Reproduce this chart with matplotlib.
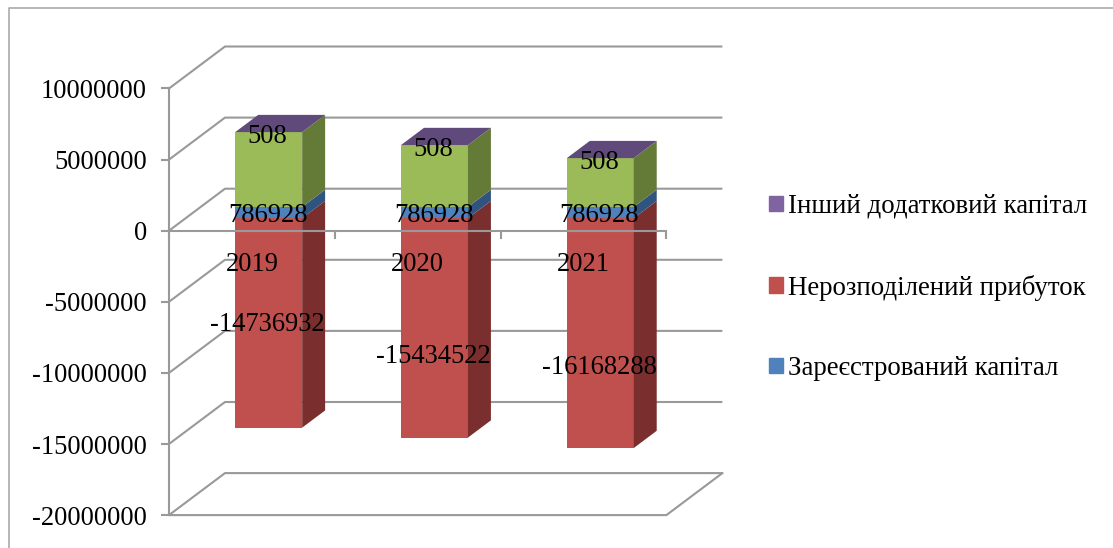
import matplotlib
matplotlib.use('Agg')
import matplotlib.pyplot as plt
from matplotlib.lines import Line2D
from matplotlib.patches import Patch, Polygon

years = ['2019', '2020', '2021']
registered = [786928, 786928, 786928]
retained = [-14736932, -15434522, -16168288]
reserve = [5260000, 4350000, 3430000]
other = [508, 508, 508]

y_ticks = [10000000, 5000000, 0, -5000000, -10000000, -15000000, -20000000]
legend_names = ['Інший додатковий капітал', 'Нерозподілений прибуток', 'Зареєстрований капітал']

W, H = 1113, 548
X0, Y0 = 169.0, 230.7      # where the zero line starts
PX_CAT = 165.8             # pixels per category
PX_VAL = 14.22 / 1e6       # pixels per unit of value
DEPTH_X, DEPTH_Y = 56, 42  # size of the 3d floor in pixels
BAR_W = 67 / 166
NEAR, FAR = 0.3, 0.71      # bar depth, 0 = front plane, 1 = back wall

GRID = '#999999'
FRONT = {'blue': '#4f81bd', 'red': '#c0504d', 'green': '#9bbb59', 'purple': '#8064a2'}
SIDE = {'blue': '#2f5480', 'red': '#7a2f2e', 'green': '#647a37', 'purple': '#5c4776'}
TOP = '#604a7b'

plt.rcParams['font.family'] = 'Liberation Serif'
FS = 19.1

fig = plt.figure(figsize=(W / 100, H / 100), dpi=100)
ax = fig.add_axes([0, 0, 1, 1])
ax.set_xlim(-X0 / PX_CAT, (W - X0) / PX_CAT)
ax.set_ylim(-(H - Y0) / PX_VAL, Y0 / PX_VAL)
ax.patch.set_visible(False)


def shift(x, v, d):
    # moves a point from the front plane d of the way to the back wall
    return x + d * DEPTH_X / PX_CAT, v + d * DEPTH_Y / PX_VAL


# outer chart frame
fig.add_artist(Line2D([8.7 / W, 8.7 / W, 1], [0, 1 - 7.7 / H, 1 - 7.7 / H],
                      color='#a3a3a3', lw=1.1))

# gridlines running over the floor and along the back wall
for t in y_ticks:
    xs = [0, shift(0, t, 1)[0], shift(3, t, 1)[0]]
    vs = [t, shift(0, t, 1)[1], shift(3, t, 1)[1]]
    ax.plot(xs, vs, color=GRID, lw=1.5, zorder=0.5, solid_capstyle='butt')

# right edge and front edge of the floor
fl = y_ticks[-1]
ax.plot([0, 3, shift(3, fl, 1)[0]], [fl, fl, shift(3, fl, 1)[1]],
        color=GRID, lw=1.5, zorder=0.5)


def draw_segment(i, low, high, color):
    left = i + 0.5 - BAR_W / 2 + NEAR * DEPTH_X / PX_CAT
    front_low = low + NEAR * DEPTH_Y / PX_VAL
    ax.bar(left, high - low, BAR_W, bottom=front_low, align='edge',
           color=FRONT[color], linewidth=0, zorder=1)
    right = i + 0.5 + BAR_W / 2
    side = [shift(right, low, NEAR), shift(right, low, FAR),
            shift(right, high, FAR), shift(right, high, NEAR)]
    ax.add_patch(Polygon(side, closed=True, facecolor=SIDE[color], linewidth=0, zorder=1))


def draw_cap(i, level):
    a = i + 0.5 - BAR_W / 2
    b = i + 0.5 + BAR_W / 2
    top = [shift(a, level, NEAR), shift(b, level, NEAR),
           shift(b, level, FAR), shift(a, level, FAR)]
    ax.add_patch(Polygon(top, closed=True, facecolor=TOP, linewidth=0, zorder=1))


# pixel nudges for the red labels, they were moved by hand in the chart
red_nudge = [2, 29, 34]

for i in range(len(years)):
    blue_top = registered[i]
    green_top = blue_top + reserve[i]
    purple_top = green_top + other[i]
    draw_segment(i, retained[i], 0, 'red')
    draw_segment(i, 0, blue_top, 'blue')
    draw_segment(i, blue_top, green_top, 'green')
    draw_segment(i, green_top, purple_top, 'purple')
    draw_cap(i, purple_top)

    cx, base = shift(i + 0.5, 0, NEAR)
    lab = dict(ha='center', va='center', fontsize=FS, color='black', zorder=4)
    ax.annotate(str(other[i]), (cx, base + purple_top), xytext=(-1, -4),
                textcoords='offset pixels', **lab)
    ax.annotate(str(registered[i]), (cx, base + blue_top / 2), xytext=(-1, -3),
                textcoords='offset pixels', **lab)
    ax.annotate(str(retained[i]), (cx, base + retained[i] / 2),
                xytext=(-1, -red_nudge[i]), textcoords='offset pixels', **lab)

# axes: real spines and ticks, crossing at zero
for s in ['top', 'right']:
    ax.spines[s].set_visible(False)
ax.spines['left'].set_position(('data', 0))
ax.spines['left'].set_bounds(y_ticks[-1], y_ticks[0])
ax.spines['bottom'].set_position(('data', 0))
ax.spines['bottom'].set_bounds(0, 3)
ax.spines['left'].set_color(GRID)
ax.spines['bottom'].set_color(GRID)
ax.spines['left'].set_linewidth(1.5)
ax.spines['bottom'].set_linewidth(1.5)

ax.set_yticks(y_ticks)
ax.set_yticklabels([str(t) for t in y_ticks], fontsize=FS)
ax.tick_params(axis='y', length=5.8, width=1.5, color=GRID, pad=10)
ax.set_xticks([0, 1, 2, 3])
ax.set_xticklabels([])
ax.tick_params(axis='x', which='major', direction='out', length=5.8, width=1.5, color=GRID)
ax.set_xticks([0.5, 1.5, 2.5], labels=years, minor=True, fontsize=FS)
ax.tick_params(axis='x', which='minor', length=0, pad=15.5)

handles = [Patch(color=FRONT['purple']), Patch(color=FRONT['red']), Patch(color=FRONT['blue'])]
ax.legend(handles, legend_names, loc='upper left',
          bbox_to_anchor=(769 / W, 1 - 194 / H), bbox_transform=fig.transFigure,
          frameon=False, fontsize=19.4, borderpad=0, borderaxespad=0,
          handlelength=0.52, handleheight=0.52, handletextpad=0.2, labelspacing=2.06)

fig.savefig('out.png', dpi=100)
